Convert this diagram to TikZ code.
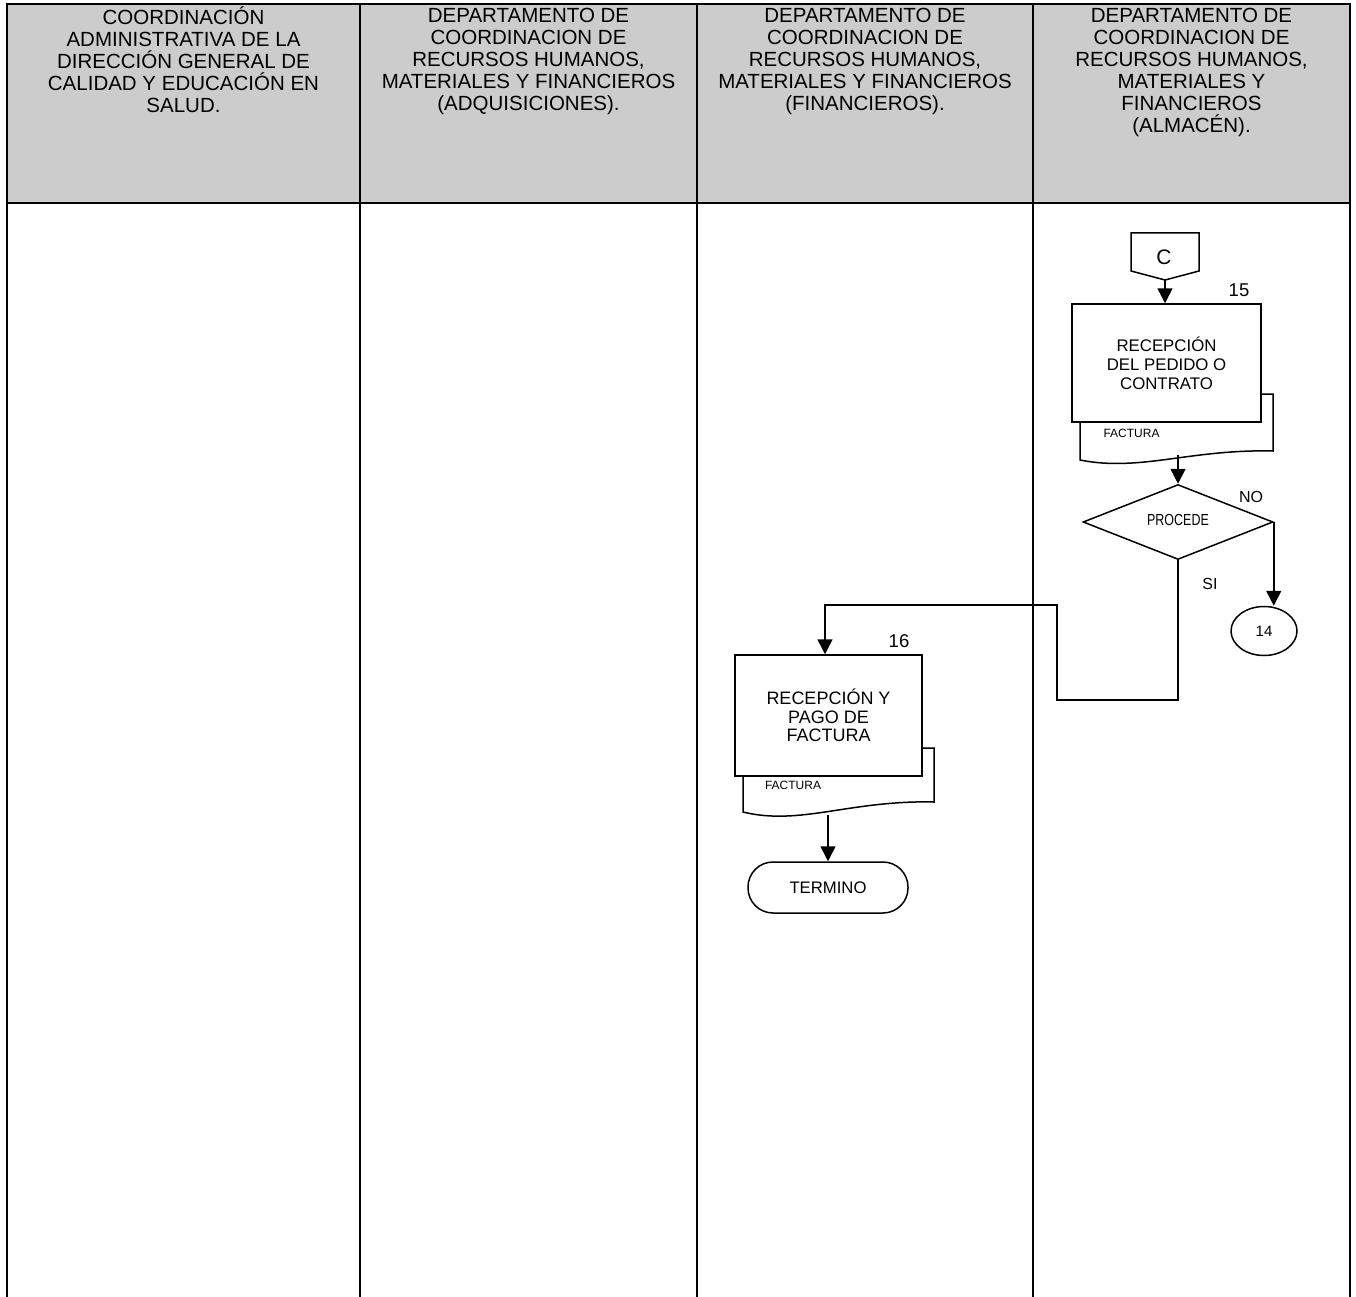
\documentclass[tikz,border=0pt]{standalone}
\usepackage{fontspec}
\setmainfont{Liberation Sans}
\usetikzlibrary{arrows.meta,shapes.geometric,calc}
\definecolor{hdrgray}{RGB}{204,204,204}

\begin{document}
\begin{tikzpicture}[x=1pt,y=-1pt,
  lane/.style={line width=2pt},
  flow/.style={line width=1.5pt},
  arr/.style={flow,-{Triangle[width=15pt,length=15pt]}},
  hdr/.style={anchor=north,inner sep=0pt,align=center,font=\fontsize{20.5}{22}\selectfont},
  proc/.style={draw,flow,fill=white,inner sep=0pt,align=center,font=\fontsize{16.8}{19}\selectfont},
  doc/.style={draw,flow,fill=white},
  small/.style={inner sep=0pt,font=\fontsize{12}{14}\selectfont},
  lbl/.style={inner sep=0pt,font=\fontsize{16}{18}\selectfont},
  num/.style={inner sep=0pt,font=\fontsize{18.5}{20}\selectfont}
]
\useasboundingbox (0,0) rectangle (1356,1297);

% swimlane table
\fill[hdrgray] (7,4) rectangle (1350,203);
\draw[lane] (7,1297) -- (7,4) -- (1350,4) -- (1350,1297);
\draw[lane] (7,203) -- (1350,203);
\foreach \x in {360,697,1033} \draw[lane] (\x,4) -- (\x,1297);

\node[hdr] (h1) at (183.5,6.9) {\strut COORDINACIÓN\\ADMINISTRATIVA DE LA\\DIRECCIÓN GENERAL DE\\CALIDAD Y EDUCACIÓN EN\\SALUD.};
\node[hdr] (h2) at (528.5,6.9) {\strut DEPARTAMENTO DE\\COORDINACION DE\\RECURSOS HUMANOS,\\MATERIALES Y FINANCIEROS\\(ADQUISICIONES).};
\node[hdr] (h3) at (865,6.9) {\strut DEPARTAMENTO DE\\COORDINACION DE\\RECURSOS HUMANOS,\\MATERIALES Y FINANCIEROS\\(FINANCIEROS).};
\node[hdr] (h4) at (1191.5,6.9) {\strut DEPARTAMENTO DE\\COORDINACION DE\\RECURSOS HUMANOS,\\MATERIALES Y\\FINANCIEROS\\(ALMACÉN).};

% off-page connector C
\draw[flow] (1131,233) -- (1199,233) -- (1199,271) -- (1165,280) -- (1131,271) -- cycle;
\node[inner sep=0pt,font=\fontsize{21}{24}\selectfont] (cC) at (1164,257) {C};
\coordinate (cbot) at (1165,280);

% step 15 with its document
\draw[doc] (1080,394) -- (1273,394) -- (1273,451) .. controls (1190,449) and (1140,472) .. (1080,460) -- cycle;
\node[proc,minimum width=189pt,minimum height=118pt] (p15) at (1166.5,363) {RECEPCIÓN\\DEL PEDIDO O\\CONTRATO};
\node[small] (f15) at (1131.5,433) {FACTURA};
\node[num] (n15) at (1239,290) {15};
\coordinate (d15b) at (1178,455);

% decision
\node[draw,flow,diamond,aspect=2.53,minimum width=190pt,minimum height=75pt,inner sep=0pt] (dec) at (1178,522) {};
\node[inner sep=0pt,font=\fontsize{16}{18}\selectfont] (decT) at (1178,520) {\scalebox{0.78}[1]{PROCEDE}};
\node[lbl] (no) at (1251,496.5) {NO};
\node[lbl] (si) at (1210,584) {SI};

% connector 14
\node[draw,flow,ellipse,minimum width=66pt,minimum height=49pt,inner sep=0pt,font=\fontsize{15}{17}\selectfont] (c14) at (1264,631) {14};

% step 16 with its document
\draw[doc] (743,748) -- (934,748) -- (934,802) .. controls (850,800) and (800,826) .. (743,812) -- cycle;
\node[proc,minimum width=187pt,minimum height=121pt,font=\fontsize{18}{18.5}\selectfont] (p16) at (828.5,715.5) {RECEPCIÓN Y\\PAGO DE\\FACTURA};
\node[small] (f16) at (793,785) {FACTURA};
\node[num] (n16) at (899,641.5) {16};
\coordinate (d16b) at (828,815);

% end
\node[draw,flow,rounded corners=25pt,minimum width=160pt,minimum height=51pt,inner sep=0pt,font=\fontsize{16.7}{19}\selectfont] (fin) at (828,887.5) {TERMINO};

% route of the SI branch
\coordinate (j1) at (1057,700);
\coordinate (j2) at (1057,605);
\coordinate (j3) at (825,605);

% connectors
\draw[arr] (cbot) -- (cbot |- p15.north);
\draw[arr] (d15b) -- (dec.north);
\draw[arr] (dec.east) -- (dec.east |- c14.north);
\draw[arr] (dec.south) -- (dec.south |- j1) -- (j1) -- (j2) -- (j3) -- (j3 |- p16.north);
\draw[arr] (d16b) -- (fin.north);
\end{tikzpicture}
\end{document}
